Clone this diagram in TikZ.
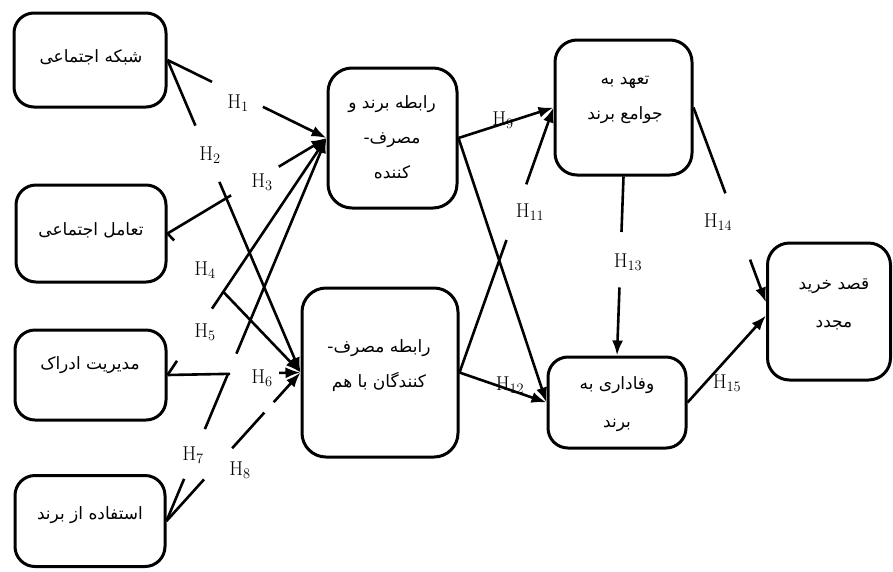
\documentclass[tikz,border=0pt]{standalone}
\usepackage{fontspec}
\newfontfamily\arabicfont[Script=Arabic]{DejaVu Sans}
\TeXXeTstate=1
\usetikzlibrary{calc,arrows.meta}
\newcommand{\fa}[1]{\beginR #1\endR}
\newcommand{\gapln}[4]{%
  \draw[conn] (#1) -- ($(#1)!#3!(#2)$);
  \draw[arr] ($(#1)!#4!(#2)$) -- (#2);}
\begin{document}
\begin{tikzpicture}[x=1pt,y=-1pt,
  box/.style={draw, line width=3pt, rounded corners=20pt, inner sep=0pt},
  txt/.style={align=center, inner sep=0pt, font=\arabicfont\fontsize{17}{35}\selectfont},
  conn/.style={line width=2.6pt},
  arr/.style={conn,-{Latex[length=15pt,width=11pt]}},
  hl/.style={inner sep=1pt, font=\fontsize{20}{20}\selectfont}]
\useasboundingbox (0,0) rectangle (893,571);
% boxes
\node[box, minimum width=152pt, minimum height=94pt] (n1) at (90,60) {};
\node[box, minimum width=150pt, minimum height=97pt] (n2) at (91,233.5) {};
\node[box, minimum width=151pt, minimum height=90pt] (n3) at (90.5,375) {};
\node[box, minimum width=150pt, minimum height=91pt] (n4) at (90,521) {};
\node[box, minimum width=129pt, minimum height=140pt, rounded corners=24pt] (n5) at (392.5,138) {};
\node[box, minimum width=156pt, minimum height=169pt, rounded corners=24pt] (n6) at (380,372.5) {};
\node[box, minimum width=137pt, minimum height=135pt, rounded corners=22pt] (n7) at (623.5,107.5) {};
\node[box, minimum width=138pt, minimum height=91pt] (n8) at (617,402.5) {};
\node[box, minimum width=123pt, minimum height=137pt, rounded corners=22pt] (n9) at (829,311.5) {};
% texts
\node[txt] (t1) at (91,57) {\fa{شبکه اجتماعی}};
\node[txt] (t2) at (91,230) {\fa{تعامل اجتماعی}};
\node[txt] (t3) at (90,365) {\fa{مدیریت ادراک}};
\node[txt] (t4) at (90,515) {\fa{استفاده از برند}};
\node[txt] (t5) at (392,137) {\fa{رابطه برند و}\\\fa{مصرف-}\\\fa{کننده}};
\node[txt] (t6) at (379,365.5) {\fa{رابطه مصرف-}\\\fa{کنندگان با هم}};
\node[txt] (t7) at (625,100) {\fa{تعهد به}\\\fa{جوامع برند}};
\node[txt, font=\arabicfont\fontsize{17}{38}\selectfont] (t8) at (617,404) {\fa{وفاداری به}\\\fa{برند}};
\node[txt, font=\arabicfont\fontsize{17}{38}\selectfont] (t9) at (834,304) {\fa{قصد خرید}\\\fa{مجدد}};
% labels under lines
\node[hl] (h9) at (503,120) {H$_{9}$};
\node[hl] (h12) at (510,385) {H$_{12}$};
% connectors
\gapln{n1.east}{n5.west}{0.28}{0.60}
\gapln{n1.east}{n6.west}{0.21}{0.39}
\gapln{n2.east}{n5.west}{0.40}{0.70}
\gapln{n2.east}{n6.west}{0.05}{0.42}
\gapln{n3.east}{n5.west}{0.06}{0.28}
\gapln{n3.east}{n6.west}{0.47}{0.84}
\draw[conn] (n4.east) -- ($(n4.east)!0.11!(n5.west)$);
\draw[conn] ($(n4.east)!0.24!(n5.west)$) -- ($(n4.east)!0.385!(n5.west)$);
\draw[arr] ($(n4.east)!0.437!(n5.west)$) -- (n5.west);
\draw[conn] (n4.east) -- ($(n4.east)!0.28!(n6.west)$);
\draw[conn] ($(n4.east)!0.49!(n6.west)$) -- ($(n4.east)!0.73!(n6.west)$);
\draw[arr] ($(n4.east)!0.80!(n6.west)$) -- (n6.west);
\draw[arr] (n5.east) -- (n7.west);
\draw[arr] (n5.east) -- (n8.west);
\gapln{n6.east}{n7.west}{0.50}{0.71}
\draw[arr] (n6.east) -- (n8.west);
\gapln{n7.south}{n8.north}{0.31}{0.62}
\coordinate (p14) at ($(n9.west)+(0,-9)$);
\coordinate (p15) at ($(n9.west)+(0,4)$);
\gapln{n7.east}{p14}{0.44}{0.78}
\draw[arr] (n8.east) -- (p15);
% labels
\node[hl] (h1) at (238,103) {H$_{1}$};
\node[hl] (h2) at (210,155) {H$_{2}$};
\node[hl] (h3) at (262,182) {H$_{3}$};
\node[hl] (h4) at (205,270) {H$_{4}$};
\node[hl] (h5) at (205,332) {H$_{5}$};
\node[hl] (h6) at (262,378) {H$_{6}$};
\node[hl] (h7) at (193,455) {H$_{7}$};
\node[hl] (h8) at (240,470) {H$_{8}$};
\node[hl] (h11) at (530,212) {H$_{11}$};
\node[hl] (h13) at (628,262) {H$_{13}$};
\node[hl] (h14) at (718,222) {H$_{14}$};
\node[hl] (h15) at (727,383) {H$_{15}$};
\end{tikzpicture}
\end{document}
